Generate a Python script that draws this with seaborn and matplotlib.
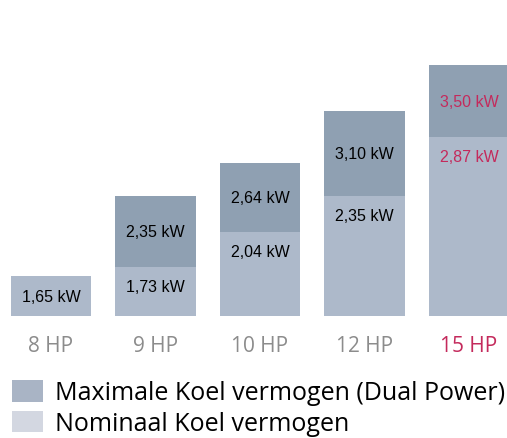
import numpy as np
import pandas as pd
import seaborn as sns
import matplotlib.pyplot as plt
from matplotlib.patches import Patch

# data
models = ['8 HP', '9 HP', '10 HP', '12 HP', '15 HP']
nominal_kw = [1.65, 1.73, 2.04, 2.35, 2.87]
maximum_kw = [np.nan, 2.35, 2.64, 3.10, 3.50]
legend_labels = ['Maximale Koel vermogen (Dual Power)', 'Nominaal Koel vermogen']

dark = '#8fa0b2'
light = '#adb9ca'
leg_dark = '#a9b4c5'
leg_light = '#d3d7e1'
accent = '#c42a5c'
grey = '#8c8c8c'

df = pd.DataFrame({'model': models, 'nominal': nominal_kw, 'maximum': maximum_kw})

sns.set_theme(style='white')
plt.rcParams['font.family'] = ['Liberation Sans', 'DejaVu Sans']

fig = plt.figure(figsize=(5.07, 4.39), dpi=100)
ax = fig.add_axes([0, 0.278, 1, 0.654])

sns.barplot(data=df, x='model', y='maximum', color=dark, saturation=1,
            width=0.77, errorbar=None, linewidth=0, ax=ax)
sns.barplot(data=df, x='model', y='nominal', color=light, saturation=1,
            width=0.77, errorbar=None, linewidth=0, ax=ax)

ax.set_xlim(-0.488, 4.364)
ax.set_ylim(1.30, 3.82)
sns.despine(ax=ax, left=True, bottom=True)
ax.set_yticks([])
ax.set_xlabel('')
ax.set_ylabel('')
ax.tick_params(axis='x', length=0, pad=14)
for i, lab in enumerate(ax.get_xticklabels()):
    lab.set_fontfamily('Open Sans')
    lab.set_fontsize(15)
    lab.set_color(accent if i == len(models) - 1 else grey)

def fmt(v):
    return f'{v:.2f} kW'.replace('.', ',')

for i, (nom, mx) in enumerate(zip(nominal_kw, maximum_kw)):
    col = accent if i == len(models) - 1 else 'black'
    if np.isnan(mx):
        ax.text(i, (nom + 1.30) / 2, fmt(nom), ha='center', va='center',
                fontsize=11.5, color=col)
    else:
        ax.annotate(fmt(nom), (i, nom), xytext=(0, -14), textcoords='offset points',
                    ha='center', va='center', fontsize=11.5, color=col)
        ax.text(i, (nom + mx) / 2, fmt(mx), ha='center', va='center',
                fontsize=11.5, color=col)

handles = [Patch(facecolor=leg_dark, edgecolor='none'),
           Patch(facecolor=leg_light, edgecolor='none')]
leg = fig.legend(handles, legend_labels, loc='upper left',
                 bbox_to_anchor=(12 / 507, 1 - 381 / 439), frameon=False,
                 prop={'family': 'Open Sans', 'size': 18}, handlelength=1.24,
                 handleheight=0.95, handletextpad=0.48, labelspacing=0.22,
                 borderpad=0, borderaxespad=0)
for t in leg.get_texts():
    t.set_color('black')

fig.savefig('out.png', dpi=100)
